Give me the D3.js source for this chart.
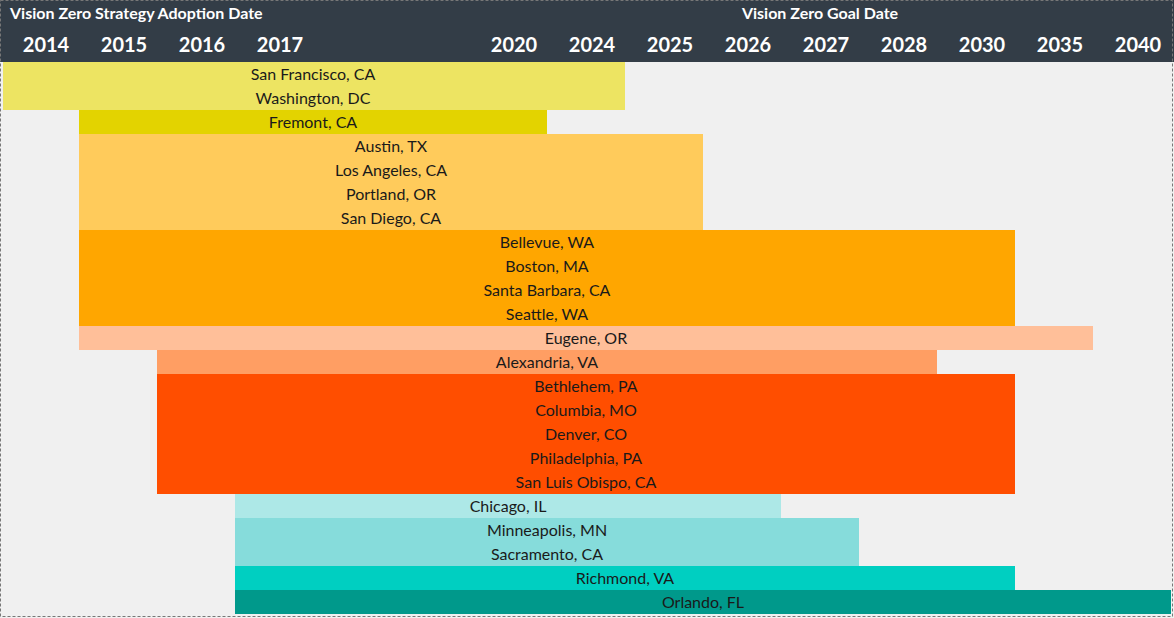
<!DOCTYPE html><html><head><meta charset="utf-8">
<script src="https://cdn.jsdelivr.net/npm/d3@7"></script>
<style>body{margin:0;background:#fff}svg{display:block;font-family:Lato,"Open Sans",sans-serif}</style>
</head><body><svg id="c" width="1174" height="618"></svg><script>
const years=["2014","2015","2016","2017","","","2020","2024","2025","2026","2027","2028","2030","2035","2040"];
const cities=["San Francisco, CA","Washington, DC","Fremont, CA","Austin, TX","Los Angeles, CA","Portland, OR","San Diego, CA","Bellevue, WA","Boston, MA","Santa Barbara, CA","Seattle, WA","Eugene, OR","Alexandria, VA","Bethlehem, PA","Columbia, MO","Denver, CO","Philadelphia, PA","San Luis Obispo, CA","Chicago, IL","Minneapolis, MN","Sacramento, CA","Richmond, VA","Orlando, FL"];
const adoptYear=["2014","2014","2015","2015","2015","2015","2015","2015","2015","2015","2015","2015","2016","2016","2016","2016","2016","2016","2017","2017","2017","2017","2017"];
const goalYear=["2024","2024","2020","2025","2025","2025","2025","2030","2030","2030","2030","2035","2028","2030","2030","2030","2030","2030","2026","2027","2027","2030","2040"];
const groupColor=["#ede462","#ede462","#e3d300","#ffcb5b","#ffcb5b","#ffcb5b","#ffcb5b","#ffa600","#ffa600","#ffa600","#ffa600","#ffbf99","#ff9e63","#ff4e00","#ff4e00","#ff4e00","#ff4e00","#ff4e00","#ade8e7","#86dcdb","#86dcdb","#00cfc1","#00998b"];
const svg=d3.select("#c");
const cols=d3.range(years.length);
const x=d3.scaleBand().domain(cols).range([1,1171]);
const y=d3.scaleBand().domain(d3.range(cities.length)).range([62,614]);
const idx=yr=>years.indexOf(yr);
svg.append("rect").attr("width",1174).attr("height",618).attr("fill","#f0f0f0");
svg.append("rect").attr("width",1174).attr("height",62).attr("fill","#333d47");
svg.append("text").attr("x",10).attr("y",19).attr("fill","#fff").attr("font-weight",700).attr("font-size",16).text("Vision Zero Strategy Adoption Date");
svg.append("text").attr("x",820).attr("y",19).attr("text-anchor","middle").attr("fill","#fff").attr("font-weight",700).attr("font-size",16).text("Vision Zero Goal Date");
svg.selectAll(".yr").data(cols).join("text").attr("x",i=>x(i)+x.bandwidth()/2+6).attr("y",52).attr("text-anchor","middle")
 .attr("fill","#fff").attr("font-weight",700).attr("font-size",20).text(i=>years[i]);
const rows=cities.map((c,i)=>({c,i,s:idx(adoptYear[i]),e:idx(goalYear[i])}));
svg.selectAll(".bar").data(rows).join("rect").attr("x",d=>d.s===0?3:x(d.s)).attr("y",d=>y(d.i))
 .attr("width",d=>x(d.e)+x.bandwidth()-(d.s===0?3:x(d.s))).attr("height",y.bandwidth()).attr("fill",d=>groupColor[d.i]);
svg.selectAll(".lbl").data(rows).join("text").attr("x",d=>(x(d.s)+x(d.e)+x.bandwidth())/2).attr("y",d=>y(d.i)+y.bandwidth()/2+6)
 .attr("text-anchor","middle").attr("font-size",16).attr("fill","#1a1a1a").text(d=>d.c);
svg.append("rect").attr("x",0.5).attr("y",0.5).attr("width",1172).attr("height",616).attr("fill","none").attr("stroke","#777").attr("stroke-dasharray","3,2");
</script></body></html>
